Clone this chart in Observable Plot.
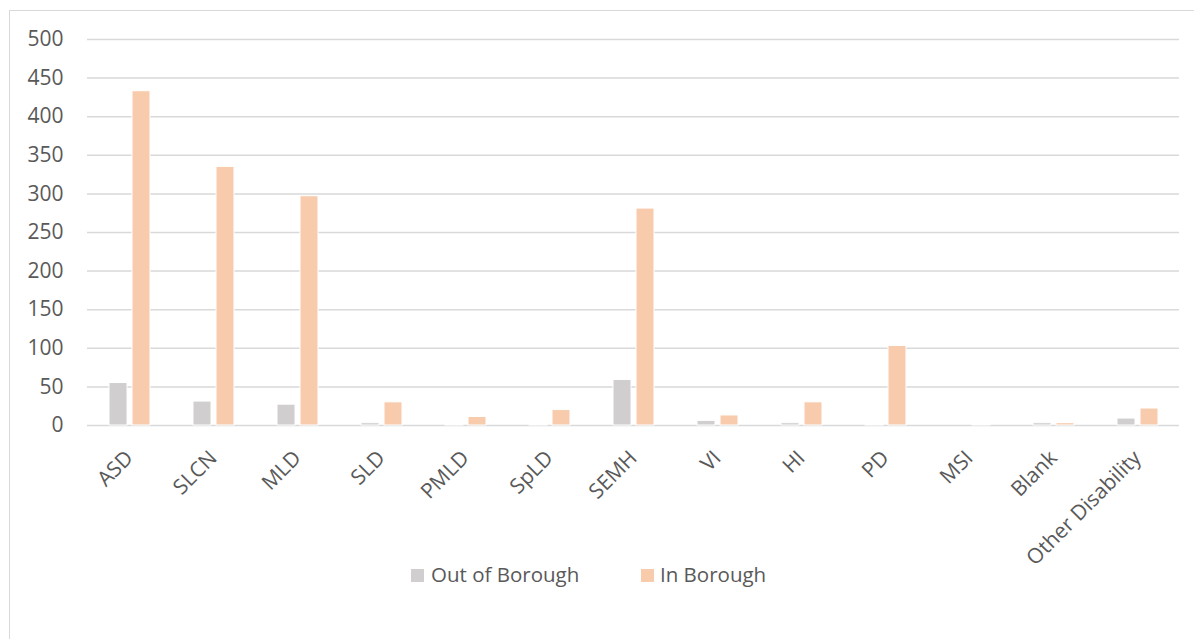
<!DOCTYPE html>
<html>
<head>
<meta charset="utf-8">
<script src="https://cdn.jsdelivr.net/npm/d3@7"></script>
<script src="https://cdn.jsdelivr.net/npm/@observablehq/plot@0.6"></script>
<style>
  html, body { margin: 0; padding: 0; background: #fff; overflow: hidden; }
  #page { position: relative; width: 1194px; height: 639px; overflow: hidden; font-family: "Open Sans", sans-serif; }
  #frame { position: absolute; left: 9px; top: 10px; width: 1300px; height: 800px; border: 1.5px solid #D9D9D9; box-sizing: border-box; }
  #chart { position: absolute; left: 0; top: 0; }
  .sw { position: absolute; width: 13px; height: 13px; top: 569px; }
  .lt { position: absolute; top: 564px; font-size: 20.5px; line-height: 20px; color: #595959; white-space: nowrap; }
</style>
</head>
<body>
<div id="page">
  <div id="frame"></div>
  <div id="chart"></div>
  <div id="legend"></div>
</div>
<script>
const categories = ["ASD", "SLCN", "MLD", "SLD", "PMLD", "SpLD", "SEMH", "VI", "HI", "PD", "MSI", "Blank", "Other Disability"];
const seriesNames = ["Out of Borough", "In Borough"];
const outOfBorough = [55, 31, 27, 3, 1, 1, 59, 6, 3, 1, 0, 3, 9];
const inBorough = [433, 335, 297, 30, 11, 20, 281, 13, 30, 103, 1, 3, 22];
const yTicks = [0, 50, 100, 150, 200, 250, 300, 350, 400, 450, 500];
const seriesColors = ["#D0CECE", "#F8CBAD"];

const data = categories.flatMap((c, i) => [
  {category: c, series: seriesNames[0], value: outOfBorough[i]},
  {category: c, series: seriesNames[1], value: inBorough[i]}
]);

const chart = Plot.plot({
  width: 1194,
  height: 555,
  marginLeft: 86,
  marginRight: 15,
  marginTop: 39,
  marginBottom: 130,
  style: {fontFamily: "'Open Sans', sans-serif", fontSize: "21px", color: "#595959", background: "transparent", overflow: "visible"},
  fx: {domain: categories, padding: 0, label: null, tickRotate: -45, tickSize: 0, tickPadding: 29, axis: "bottom"},
  x: {domain: seriesNames, axis: null, paddingInner: 0.22, paddingOuter: 0.93},
  y: {domain: [0, 500], label: null},
  color: {domain: seriesNames, range: seriesColors},
  marks: [
    Plot.gridY(yTicks, {stroke: "#D9D9D9", strokeOpacity: 1, strokeWidth: 1.5}),
    Plot.axisY(yTicks, {tickSize: 0, tickPadding: 24, label: null, fill: "#595959"}),
    Plot.barY(data, {fx: "category", x: "series", y: "value", fill: "series", stroke: "white", strokeWidth: 1})
  ]
});
document.getElementById("chart").appendChild(chart);

const legend = document.getElementById("legend");
const legendPos = [[411, 431], [641, 660]];
seriesNames.forEach((name, i) => {
  const sw = document.createElement("div");
  sw.className = "sw";
  sw.style.left = legendPos[i][0] + "px";
  sw.style.background = seriesColors[i];
  legend.appendChild(sw);
  const t = document.createElement("div");
  t.className = "lt";
  t.style.left = legendPos[i][1] + "px";
  t.textContent = name;
  legend.appendChild(t);
});
</script>
</body>
</html>
